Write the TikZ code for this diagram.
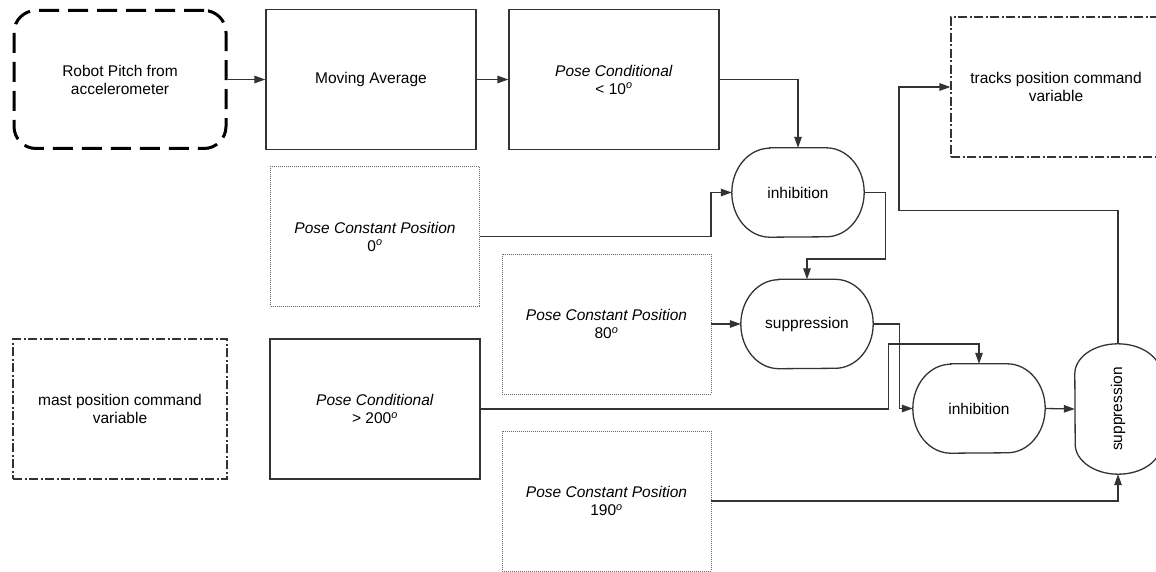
\documentclass[tikz,border=0pt]{standalone}
\usepackage{fontspec}
\setmainfont{Liberation Sans}
\usetikzlibrary{arrows.meta,calc}
\newcommand{\degsym}{\textsuperscript{\itshape o}}

% capsule outline around a node: flat top and bottom, elliptic ends
\newcommand{\hcapsule}[3]{%
  \draw[capline] ($(#1.north west)+(#2,0)$) -- ($(#1.north east)+(-#2,0)$)
    arc[start angle=-90,end angle=90,x radius=#2,y radius=#3]
    -- ($(#1.south west)+(#2,0)$)
    arc[start angle=90,end angle=270,x radius=#2,y radius=#3] -- cycle;}
% the same, standing upright: flat sides, elliptic top and bottom
\newcommand{\vcapsule}[3]{%
  \draw[capline] ($(#1.north west)+(0,#3)$)
    arc[start angle=180,end angle=360,x radius=#2,y radius=#3]
    -- ($(#1.south east)+(0,-#3)$)
    arc[start angle=0,end angle=180,x radius=#2,y radius=#3] -- cycle;}

\begin{document}
\begin{tikzpicture}[x=1pt,y=-1pt,
  every node/.style={font=\fontsize{15.5}{18}\selectfont, align=center, inner sep=0pt},
  solidbox/.style={draw=black!80, line width=1.3pt, minimum width=210pt, minimum height=140pt},
  dotbox/.style={draw=black!60, line width=0.8pt, dash pattern=on 0.9pt off 1.1pt, minimum width=209pt, minimum height=140pt},
  dashdotbox/.style={draw=black!80, line width=1.1pt, dash pattern=on 9pt off 2.5pt on 2pt off 2.5pt, minimum width=210pt, minimum height=140pt},
  sensorbox/.style={draw=black, line width=3pt, dash pattern=on 20pt off 9pt, rounded corners=22pt, minimum width=212pt, minimum height=138pt},
  capsule/.style={minimum width=132pt, minimum height=89pt},
  capline/.style={draw=black!80, line width=1.3pt},
  arr/.style={draw=black!80, line width=1.3pt, -{Triangle[length=11pt,width=7.5pt]}}
]
\useasboundingbox (0,0) rectangle (1156,572);
\clip (0,0) rectangle (1156,572);

% top row: sensor, filter, condition
\node[sensorbox] (robot) at (120,79.5) {Robot Pitch from\\accelerometer};
\node[solidbox] (movavg) at (371,79.5) {Moving Average};
\node[solidbox] (cond10) at (614,79.5) {\textit{Pose Conditional}\\< 10\degsym};
\node[dashdotbox] (tracks) at (1056,87) {tracks position command\\variable};

% constant behaviours
\node[dotbox] (const0) at (375,236.5) {\textit{Pose Constant Position}\\0\degsym};
\node[dotbox] (const80) at (606.5,324) {\textit{Pose Constant Position}\\80\degsym};
\node[dotbox] (const190) at (606.5,501) {\textit{Pose Constant Position}\\190\degsym};

% mast branch
\node[dashdotbox, minimum width=214pt] (mast) at (120,409) {mast position command\\variable};
\node[solidbox] (cond200) at (375,409) {\textit{Pose Conditional}\\> 200\degsym};

% arbitration nodes
\node[capsule] (inh1) at (798,192.5) {inhibition};
\node[capsule] (sup1) at (807,324) {suppression};
\node[capsule] (inh2) at (979,408.5) {inhibition};
\node[capsule, minimum width=86pt, minimum height=130pt] (sup2) at (1118,409) {\rotatebox{90}{suppression}};
\hcapsule{inh1}{38}{44.5}
\hcapsule{sup1}{38}{44.5}
\hcapsule{inh2}{38}{44.5}
\vcapsule{sup2}{43}{30}

% connectors
\draw[arr] (robot.east) -- (movavg.west);
\draw[arr] (movavg.east) -- (cond10.west);
\draw[arr] (cond10.east) -| (inh1.north);
\draw[arr] (const0.east) -- ++(231,0) |- (inh1.west);
\draw[arr] (inh1.east) -- ++(21,0) -- ++(0,66.5) -| (sup1.north);
\draw[arr] (const80.east) -- (sup1.west);
\draw[arr] (sup1.east) -- ++(26,0) |- (inh2.west);
\draw[arr] (cond200.east) -- ++(408,0) -- ++(0,-65) -| (inh2.north);
\draw[arr] (inh2.east) -- (sup2.west);
\draw[arr] (const190.east) -| (sup2.south);
\draw[arr] (sup2.north) -- ++(0,-133) -- ++(-219,0) |- (tracks.west);
\end{tikzpicture}
\end{document}
